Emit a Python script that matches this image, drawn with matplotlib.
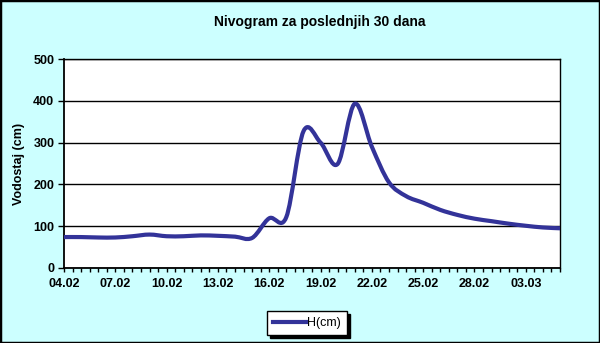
import matplotlib
matplotlib.use('Agg')
import matplotlib.pyplot as plt
import numpy as np
from matplotlib.path import Path
from matplotlib.patches import PathPatch, Rectangle
from matplotlib.lines import Line2D

plt.rcParams['font.family'] = ['Liberation Sans', 'DejaVu Sans']

# daily water level, 04.02 - 05.03
days = np.arange(30)
level = [74, 74, 73, 73, 76, 80, 76, 76, 78, 77,
         75, 72, 119, 122, 327, 300, 249, 393, 290, 205,
         172, 156, 139, 127, 118, 112, 106, 101, 97, 95]
tick_days = [0, 3, 6, 9, 12, 15, 18, 21, 24, 27]
tick_labels = ['04.02', '07.02', '10.02', '13.02', '16.02',
               '19.02', '22.02', '25.02', '28.02', '03.03']

bg = '#CCFFFF'
line_color = '#333399'

fig = plt.figure(figsize=(6, 3.43), dpi=100, facecolor=bg)
ax = fig.add_axes([64/600, 1-268/343, 496/600, 209/343])
ax.set_facecolor('white')

# smoothed line (like Excel "smoothed line")
pts = np.column_stack([days, level]).astype(float)
verts = [pts[0]]
codes = [Path.MOVETO]
n = len(pts)
for i in range(n-1):
    p0 = pts[i-1] if i > 0 else pts[i]
    p1 = pts[i]
    p2 = pts[i+1]
    p3 = pts[i+2] if i+2 < n else pts[i+1]
    c1 = p1 + (p2 - p0) / 6
    c2 = p2 - (p3 - p1) / 6
    verts += [c1, c2, p2]
    codes += [Path.CURVE4] * 3
ax.add_patch(PathPatch(Path(verts, codes), facecolor='none',
                       edgecolor=line_color, lw=3, capstyle='round',
                       joinstyle='round', zorder=3))

ax.set_xlim(0, 29)
ax.set_ylim(0, 500)
ax.set_yticks([0, 100, 200, 300, 400, 500])
ax.set_xticks(tick_days)
ax.set_xticklabels(tick_labels)
ax.set_xticks(np.arange(0, 29.01, 0.5), minor=True)
ax.yaxis.grid(True, color='black', lw=1)
ax.set_axisbelow(True)

for s in ax.spines.values():
    s.set_color('black')
    s.set_linewidth(1)
ax.spines['left'].set_linewidth(1.3)
ax.spines['bottom'].set_linewidth(1.3)

ax.tick_params(axis='x', which='both', direction='out', length=3, width=1,
               labelsize=9, pad=4)
ax.tick_params(axis='y', direction='out', length=4, width=1, labelsize=9, pad=3)
for lab in ax.get_xticklabels() + ax.get_yticklabels():
    lab.set_fontweight('bold')

ax.set_ylabel('Vodostaj (cm)', fontsize=9, fontweight='bold', labelpad=6)
fig.text(320/600, 1-22/343, 'Nivogram za poslednjih 30 dana',
         ha='center', va='center', fontsize=10, fontweight='bold')

handle = Line2D([], [], color=line_color, lw=3)
leg = fig.legend([handle], ['H(cm)'], loc='center',
                 bbox_to_anchor=(307/600, 1-323/343), fontsize=9,
                 fancybox=False, edgecolor='black', framealpha=1,
                 shadow={'color': 'black', 'alpha': 1},
                 handlelength=2.6, handletextpad=0.1, borderpad=0.5)
leg.get_frame().set_linewidth(1)

fig.add_artist(Rectangle((0, 0), 1, 1, transform=fig.transFigure,
                         fill=False, edgecolor='black', lw=2.5))

fig.savefig('out.png', dpi=100, facecolor=bg)
